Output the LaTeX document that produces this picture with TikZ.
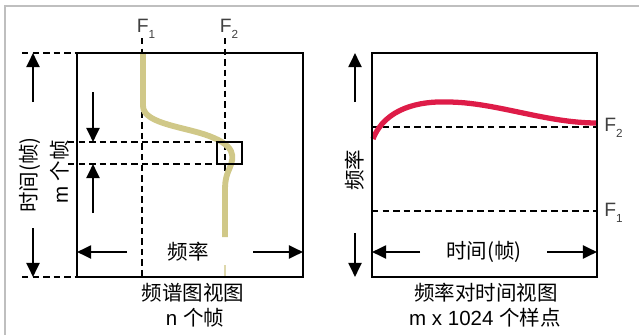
\documentclass[tikz,border=0pt]{standalone}
\usepackage{fontspec}
\setmainfont{Liberation Sans}
\newfontfamily\cjk{Noto Sans CJK SC}
\usetikzlibrary{arrows.meta}
\definecolor{specyellow}{RGB}{208,200,136}
\definecolor{specred}{RGB}{222,28,72}
\tikzset{
  boxline/.style={line width=2.2pt},
  dotline/.style={line width=2pt, dash pattern=on 5.5pt off 3.5pt},
  bigarrow/.style={line width=2pt, -{Triangle[width=11pt,length=12pt]}},
  lbl/.style={font=\fontsize{17.5}{20}\selectfont, inner sep=1pt},
  flbl/.style={font=\fontsize{16.5}{18}\selectfont, text=black!75, inner sep=1pt},
}
\newcommand{\fsub}[1]{F\raisebox{-0.55ex}{\fontsize{10}{10}\selectfont #1}}
\begin{document}
\begin{tikzpicture}[x=0.03cm,y=-0.03cm]
  \useasboundingbox (0,0) rectangle (639,335);
  \draw[black!25, line width=0.9pt] (5,335) -- (5,6) -- (639,6);
  % spectrogram view
  \coordinate (ltop) at (77,53);
  \coordinate (lbot) at (303,277);
  \draw[dotline] (22,53) -- (ltop);
  \draw[dotline] (22,277) -- (77,277);
  \draw[dotline] (142,38) -- (142,277);
  \draw[dotline] (225,38) -- (225,200);
  \draw[dotline] (68,142) -- (217,142);
  \draw[dotline] (68,164) -- (217,164);
  \draw[specyellow, line width=5pt] (143,53) -- (143,106)
    .. controls (143,125) and (190,127) .. (214,138)
    .. controls (240,149) and (232,162) .. (228,172)
    .. controls (225,180) and (225,185) .. (225,192) -- (225,237);
  \draw[specyellow!70, line width=2pt] (225,265) -- (225,277);
  \draw[boxline] (ltop) rectangle (lbot);
  \node[draw, boxline, minimum width=25*0.03cm, minimum height=22*0.03cm,
    inner sep=0pt] (win) at (229.5,153) {};
  \node[flbl] (f1a) at (146,29) {\fsub{1}};
  \node[flbl] (f2a) at (229,29) {\fsub{2}};
  \coordinate (tup1) at (33,102);
  \coordinate (tup2) at (33,53);
  \coordinate (tdn1) at (33,228);
  \coordinate (tdn2) at (33,277);
  \draw[bigarrow] (tup1) -- (tup2);
  \draw[bigarrow] (tdn1) -- (tdn2);
  \coordinate (mdn1) at (93,92);
  \coordinate (mdn2) at (93,142);
  \coordinate (mup1) at (93,213);
  \coordinate (mup2) at (93,164);
  \draw[bigarrow] (mdn1) -- (mdn2);
  \draw[bigarrow] (mup1) -- (mup2);
  \node[lbl, rotate=90] (ttime) at (30,175) {\cjk 时间(帧)};
  \node[lbl, rotate=90] (tm) at (60,172) {m {\cjk 个帧}};
  \coordinate (fl1) at (127,252);
  \coordinate (fl2) at (77,252);
  \coordinate (fr1) at (253,252);
  \coordinate (fr2) at (303,252);
  \draw[bigarrow] (fl1) -- (fl2);
  \draw[bigarrow] (fr1) -- (fr2);
  \node[lbl] (freqa) at (188,252) {\cjk 频率};
  \node[lbl] (capa) at (193,293) {\cjk 频谱图视图};
  \node[lbl] (capb) at (195,318) {n {\cjk 个帧}};
  % frequency vs time view
  \coordinate (rtop) at (372,53);
  \coordinate (rbot) at (597,277);
  \draw[dotline] (372,127) -- (597,127);
  \draw[dotline] (372,211) -- (597,211);
  \draw[specred, line width=4.5pt] (373,139)
    .. controls (385,108) and (420,101) .. (447,102)
    .. controls (495,102) and (545,123) .. (597,123);
  \draw[boxline] (rtop) rectangle (rbot);
  \node[flbl, anchor=west] (f2b) at (603,128) {\fsub{2}};
  \node[flbl, anchor=west] (f1b) at (603,213) {\fsub{1}};
  \coordinate (rup1) at (355,102);
  \coordinate (rup2) at (355,53);
  \coordinate (rdn1) at (355,233);
  \coordinate (rdn2) at (355,277);
  \draw[bigarrow] (rup1) -- (rup2);
  \draw[bigarrow] (rdn1) -- (rdn2);
  \node[lbl, rotate=90] (freqb) at (355,170) {\cjk 频率};
  \coordinate (tl1) at (420,252);
  \coordinate (tl2) at (372,252);
  \coordinate (tr1) at (547,252);
  \coordinate (tr2) at (597,252);
  \draw[bigarrow] (tl1) -- (tl2);
  \draw[bigarrow] (tr1) -- (tr2);
  \node[lbl] (timeb) at (484,252) {\cjk 时间(帧)};
  \node[lbl] (capc) at (486,293) {\cjk 频率对时间视图};
  \node[lbl] (capd) at (485,318) {m x 1024 {\cjk 个样点}};
\end{tikzpicture}
\end{document}
